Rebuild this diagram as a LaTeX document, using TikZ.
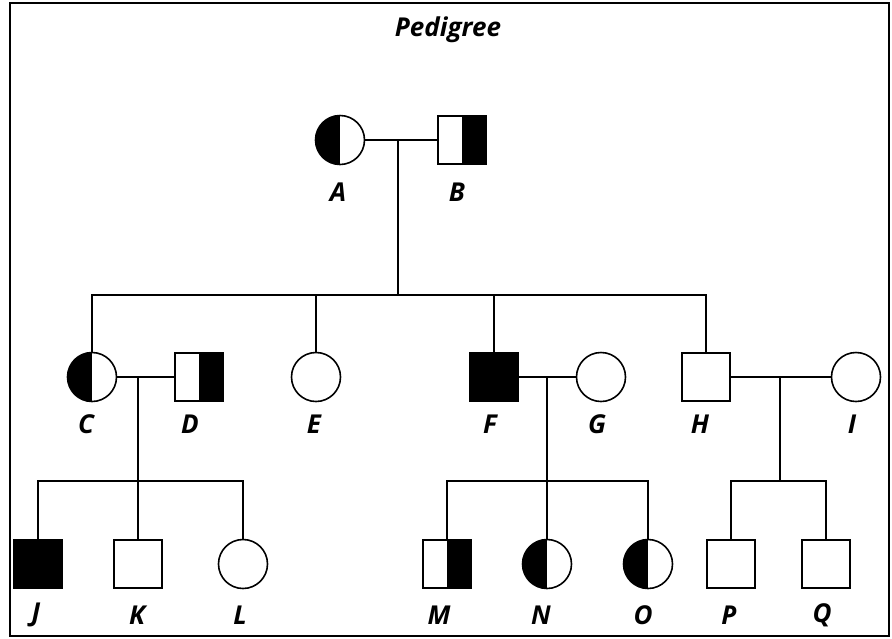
\documentclass[tikz,border=0pt]{standalone}
\usepackage{fontspec}
\setmainfont{Open Sans}
\begin{document}
\begin{tikzpicture}[x=1pt,y=-1pt,
  every node/.style={inner sep=0pt,outer sep=0pt},
  ln/.style={line width=1.6pt},
  fem/.style={circle,draw,line width=1.6pt,minimum size=49pt,fill=white},
  mal/.style={rectangle,draw,line width=1.6pt,minimum size=48pt,fill=white},
  aff/.style={fill=black},
  lh/.style={path picture={\fill[black] (path picture bounding box.south west) rectangle (path picture bounding box.north);}},
  rh/.style={path picture={\fill[black] (path picture bounding box.south) rectangle (path picture bounding box.north east);}},
  lab/.style={font=\fontsize{26}{28}\selectfont\bfseries\itshape}]
\useasboundingbox (0,0) rectangle (892,638);
\draw[line width=1.6pt] (10,3) rectangle (889,636);
\node[lab] (title) at (448,30) {Pedigree};
% generation I
\node[fem,lh] (A) at (340,140) {};
\node[mal,rh] (B) at (462,140) {};
\node[lab] (lA) at (338,192) {A};
\node[lab] (lB) at (457,192) {B};
% generation II
\node[fem,lh] (C) at (92,377) {};
\node[mal,rh] (D) at (199,377) {};
\node[fem] (E) at (316,377) {};
\node[mal,aff] (F) at (494,377) {};
\node[fem] (G) at (601,377) {};
\node[mal] (H) at (706,377) {};
\node[fem] (I) at (856,377) {};
\node[lab] (lC) at (86,424) {C};
\node[lab] (lD) at (190,424) {D};
\node[lab] (lE) at (314,424) {E};
\node[lab] (lF) at (490,424) {F};
\node[lab] (lG) at (597,424) {G};
\node[lab] (lH) at (700,424) {H};
\node[lab] (lI) at (852,424) {I};
% generation III
\node[mal,aff] (J) at (38,564) {};
\node[mal] (K) at (138,564) {};
\node[fem] (L) at (243,564) {};
\node[mal,rh] (M) at (447,564) {};
\node[fem,lh] (N) at (547,564) {};
\node[fem,lh] (O) at (648,564) {};
\node[mal] (P) at (731,564) {};
\node[mal] (Q) at (826,564) {};
\node[lab] (lJ) at (36,615) {J};
\node[lab] (lK) at (137,615) {K};
\node[lab] (lL) at (240,615) {L};
\node[lab] (lM) at (439,615) {M};
\node[lab] (lN) at (541,615) {N};
\node[lab] (lO) at (643,615) {O};
\node[lab] (lP) at (729,615) {P};
\node[lab] (lQ) at (822,615) {Q};
% coordinates
\coordinate (ab) at (398,140);
\coordinate (s1) at (398,295);
\coordinate (cd) at (138,377);
\coordinate (s2) at (138,481);
\coordinate (fg) at (547,377);
\coordinate (s3) at (547,481);
\coordinate (hi) at (780,377);
\coordinate (s4) at (780,481);
% connectors
\draw[ln] (A) -- (B);
\draw[ln] (ab) -- (s1);
\draw[ln] (C) |- (s1);
\draw[ln] (E) |- (s1);
\draw[ln] (F) |- (s1);
\draw[ln] (H) |- (s1);
\draw[ln] (C) -- (D);
\draw[ln] (cd) -- (s2);
\draw[ln] (J) |- (s2);
\draw[ln] (K) -- (s2);
\draw[ln] (L) |- (s2);
\draw[ln] (F) -- (G);
\draw[ln] (fg) -- (s3);
\draw[ln] (M) |- (s3);
\draw[ln] (N) -- (s3);
\draw[ln] (O) |- (s3);
\draw[ln] (H) -- (I);
\draw[ln] (hi) -- (s4);
\draw[ln] (P) |- (s4);
\draw[ln] (Q) |- (s4);
\end{tikzpicture}
\end{document}
